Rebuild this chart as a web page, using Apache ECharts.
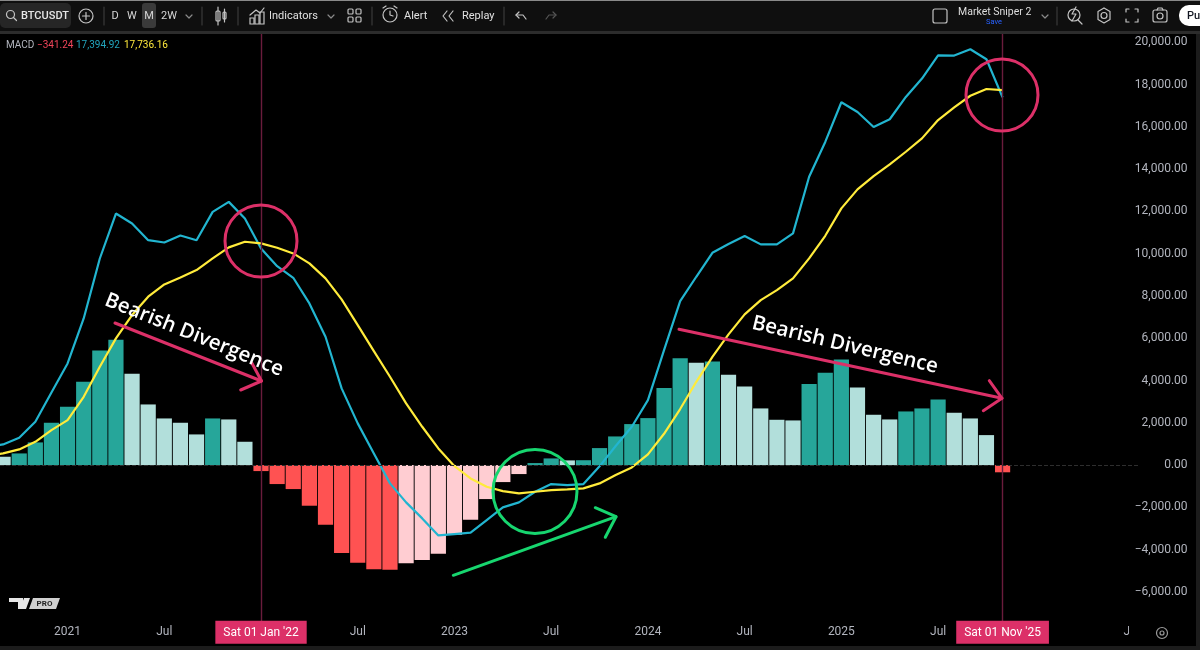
<!DOCTYPE html>
<html>
<head>
<meta charset="utf-8">
<title>BTCUSDT MACD</title>
<script src="https://cdn.jsdelivr.net/npm/echarts@6/dist/echarts.min.js"></script>
<style>
	html,body{margin:0;padding:0;background:#000;}
	#chart{width:1200px;height:650px;}
</style>
</head>
<body>
<div id="chart"></div>
<script>
	// monthly bars, Aug 2020 .. Jul 2026 (values stop at Nov 2025)
	var months = [
		'2020-08','2020-09','2020-10','2020-11','2020-12',
		'2021-01','2021-02','2021-03','2021-04','2021-05','2021-06','2021-07','2021-08','2021-09','2021-10','2021-11','2021-12',
		'2022-01','2022-02','2022-03','2022-04','2022-05','2022-06','2022-07','2022-08','2022-09','2022-10','2022-11','2022-12',
		'2023-01','2023-02','2023-03','2023-04','2023-05','2023-06','2023-07','2023-08','2023-09','2023-10','2023-11','2023-12',
		'2024-01','2024-02','2024-03','2024-04','2024-05','2024-06','2024-07','2024-08','2024-09','2024-10','2024-11','2024-12',
		'2025-01','2025-02','2025-03','2025-04','2025-05','2025-06','2025-07','2025-08','2025-09','2025-10','2025-11','2025-12',
		'2026-01','2026-02','2026-03','2026-04','2026-05','2026-06','2026-07'
	];
	var histValues = [
		450,394,551,1072,2002,
		2758,3940,5421,5926,4318,2868,2206,2002,1450,2206,2159,1103,
		-284,-898,-1135,-1923,-2821,-4161,-4618,-4933,-4949,-4649,-4492,-4192,
		-3300,-2585,-1608,-804,-425,95,315,221,230,804,1355,1939,
		2222,3641,5059,4837,4902,4271,3719,2680,2143,2112,3830,4366,
		4996,3672,2380,2159,2537,2680,3105,2475,2206,1418,-341.24
	];
	var macdValues = [
		880,978,1293,2049,3436,
		4807,6934,9772,11899,11427,10638,10528,10859,10638,11978,12451,11663,
		10244,9409,8860,7648,6070,3627,1972,552,-866,-1765,-2522,-3326,
		-3262,-3199,-2600,-2002,-1765,-1261,-898,-946,-898,-60,900,1811,
		3075,5440,7758,8908,10043,10454,10833,10440,10440,10960,13638,15286,
		17163,16705,15995,16359,17414,18284,19385,19370,19669,19196,17394.92
	];
	var signalValues = [
		430,553,742,1102,1656,
		2129,3231,4650,5993,7095,7963,8546,8877,9224,9777,10298,10563,
		10490,10280,10012,9540,8830,7838,6622,5393,4177,2917,1813,788,
		-50,-631,-1025,-1230,-1340,-1261,-1183,-1151,-1104,-867,-473,-110,
		504,1480,2650,3940,5123,6182,7128,7805,8278,8831,9777,10847,
		12143,13041,13671,14224,14822,15454,16320,16921,17470,17790,17736.16
	];
	var xTickLabels = {
		'2021-01':'2021','2021-07':'Jul','2022-07':'Jul','2023-01':'2023','2023-07':'Jul',
		'2024-01':'2024','2024-07':'Jul','2025-01':'2025','2025-07':'Jul','2026-07':'Jul'
	};
	var dateFlags = {'2022-01':"Sat 01 Jan '22",'2025-11':"Sat 01 Nov '25"};
	var yMin = -8000, yMax = 22000, yStep = 2000;
	var legendText = ['MACD','\u2212341.24','17,394.92','17,736.16'];

	var TEAL='#26a69a', TEAL_LIGHT='#b2dfdb', RED='#ff5252', RED_LIGHT='#ffcdd2';
	var MACD_COLOR='#22b5d0', SIGNAL_COLOR='#ffeb3b', PINK='#dc3068', GREEN='#17d66f', MAROON='#6a1c3c';
	var ICON='#c4c4c4', FONT='Roboto, "Noto Sans", sans-serif';

	function histColor(params){
		var i = params.dataIndex, v = histValues[i], prev = i>0 ? histValues[i-1] : v;
		if(v>=0){ return v>=prev ? TEAL : TEAL_LIGHT; }
		return v<prev ? RED : RED_LIGHT;
	}
	// the time scale is a month index, so the first bar can sit half off the left edge
	function pairs(values){
		return values.map(function(v,i){ return [i,v]; });
	}
	var xTickIndex = [];
	months.forEach(function(m,i){
		if(xTickLabels[m]||dateFlags[m]){ xTickIndex.push(i); }
	});

	// --- helpers for the overlay drawing ---
	var els = [];
	function txt(x,y,s,color,size,opt){
		opt = opt||{};
		els.push({type:'text',x:x,y:y,z:100,rotation:opt.rot||0,style:{text:s,fill:color,font:(opt.weight||'400')+' '+size+'px '+(opt.family||FONT),
			textAlign:opt.align||'left',textVerticalAlign:'middle'}});
	}
	function line(pts,color,w){
		els.push({type:'polyline',z:100,shape:{points:pts},style:{stroke:color,lineWidth:w||1.2,fill:null,lineCap:'round',lineJoin:'round'}});
	}
	function ring(x,y,r,color,w){
		els.push({type:'circle',z:100,shape:{cx:x,cy:y,r:r},style:{stroke:color,lineWidth:w||1.2,fill:null}});
	}
	function box(x,y,w,h,fill,r,stroke){
		els.push({type:'rect',z:r===-1?99:100,shape:{x:x,y:y,width:w,height:h,r:r>0?r:0},style:{fill:fill||null,stroke:stroke||null,lineWidth:1.2}});
	}
	function poly(pts,fill){
		els.push({type:'polygon',z:100,shape:{points:pts},style:{fill:fill}});
	}

	// toolbar
	box(0,0,1200,31,'#0f0f0f',-1);
	box(0,0,1200,1,'#8a8a8a',-1);
	box(0,31,1200,3,'#2c2c2c',-1);
	box(0,3,71,25,'#262626',5);
	ring(10.5,14.5,4,ICON); line([[13.5,17.5],[16.5,20.5]],ICON);
	txt(21,16,'BTCUSDT','#e6e6e6',11,{weight:'500'});
	ring(86,16,7,ICON); line([[82.5,16],[89.5,16]],ICON); line([[86,12.5],[86,19.5]],ICON);
	line([[104,7],[104,25]],'#3a3a3a');
	box(142,3,14,25,'#3a3a3a',3);
	txt(115,16,'D','#d6d6d6',11,{align:'center'});
	txt(132,16,'W','#d6d6d6',11,{align:'center'});
	txt(149,16,'M','#d6d6d6',11,{align:'center'});
	txt(169,16,'2W','#d6d6d6',11,{align:'center'});
	line([[186,15],[189,18],[192,15]],'#8a8a8a');
	line([[202,7],[202,25]],'#3a3a3a');
	box(216,11,4,10,null,1,ICON); line([[218,7],[218,25]],ICON);
	box(223,12,3,7,null,1,ICON); line([[224.5,9],[224.5,22]],ICON);
	line([[238,7],[238,25]],'#3a3a3a');
	line([[250,15],[256,10],[260,13],[264,8]],ICON);
	box(250,18,4,6,null,0,ICON); box(255,15,4,9,null,0,ICON); box(260,12,4,12,null,0,ICON);
	txt(269,16,'Indicators','#e0e0e0',11);
	line([[328,15],[331,18],[334,15]],'#8a8a8a');
	box(348,9,5,5,null,1,ICON); box(356,9,5,5,null,1,ICON); box(348,17,5,5,null,1,ICON); box(356,17,5,5,null,1,ICON);
	line([[372,7],[372,25]],'#3a3a3a');
	ring(390,15,7,ICON); line([[390,11],[390,15],[393,16]],ICON); line([[383,8],[386,6]],ICON); line([[397,8],[394,6]],ICON);
	txt(404,16,'Alert','#e0e0e0',11);
	line([[447,11],[443,16],[447,21]],ICON); line([[453,11],[449,16],[453,21]],ICON);
	txt(462,16,'Replay','#e0e0e0',11);
	line([[504,7],[504,25]],'#3a3a3a');
	line([[519,12],[516,15],[519,18]],ICON); line([[516,15],[523,15],[526,19]],ICON);
	line([[553,12],[556,15],[553,18]],'#555'); line([[556,15],[549,15],[546,19]],'#555');
	box(933,9,14,14,null,2,ICON);
	txt(958,12,'Market Sniper 2','#dedede',10.5);
	txt(994,22,'Save','#2962ff',7.5,{align:'center'});
	line([[1042,15],[1045,18],[1048,15]],'#8a8a8a');
	line([[1057,7],[1057,25]],'#3a3a3a');
	ring(1074,15,6,ICON); line([[1078,20],[1082,24]],ICON); line([[1076,7],[1072,14],[1076,14],[1072,21]],ICON);
	line([[1104,8],[1110,11.5],[1110,19.5],[1104,23],[1098,19.5],[1098,11.5],[1104,8]],ICON); ring(1104,15.5,3,ICON);
	line([[1126,12],[1126,9],[1129,9]],ICON); line([[1135,9],[1138,9],[1138,12]],ICON); line([[1126,19],[1126,22],[1129,22]],ICON); line([[1135,22],[1138,22],[1138,19]],ICON);
	box(1153,10,14,12,null,2,ICON); ring(1160,16,3,ICON); line([[1157,10],[1158,8],[1162,8],[1163,10]],ICON);
	box(1179,5,30,21,'#ffffff',10);
	txt(1187,16,'Pul','#131722',11,{weight:'500'});

	// indicator legend
	txt(6,45,legendText[0],'#b2b5be',10);
	txt(37,45,legendText[1],'#f0455a',10);
	txt(76,45,legendText[2],'#22a5bd',10);
	txt(124,45,legendText[3],'#ffe93b',10);

	// hand drawn annotations
	ring(261,241,36,PINK,3);
	ring(1002,95,36,PINK,3);
	ring(535,491.5,42,GREEN,3);
	line([[115,323],[261.5,381]],PINK,3); line([[251.7,362.7],[261.5,381],[240.7,390]],PINK,3);
	line([[679,329.3],[1002,398.3]],PINK,3); line([[989.3,380.7],[1002,398.3],[983.3,410.7]],PINK,3);
	line([[453.3,575.3],[616,516.7]],GREEN,3); line([[595.3,507.7],[616,516.7],[605.3,537.3]],GREEN,3);
	var NOTE='"Open Sans", "Noto Sans", sans-serif';
	txt(194,335,'Bearish Divergence','#ffffff',20.5,{weight:'600',family:NOTE,align:'center',rot:-22*Math.PI/180});
	txt(845,345,'Bearish Divergence','#ffffff',20.5,{weight:'600',family:NOTE,align:'center',rot:-13.5*Math.PI/180});

	// logo
	poly([[9,598],[23,598],[23,609],[18,609],[18,602],[9,602]],'#e6e6e6');
	poly([[24,598],[30,598],[26,609],[20,609]],'#e6e6e6');
	poly([[33,598],[60,598],[56,609],[29,609]],'#d0d0d0');
	txt(44.5,603.7,'PRO','#222',8,{weight:'700',align:'center'});

	// right edge of the time scale and the panel border
	box(1129,620,62,24,'#000',-1);
	ring(1162,633,5.5,'#9a9a9a'); ring(1162,633,2,'#9a9a9a');
	box(1196,34,4,616,'#1c1c1c',-1);
	box(0,646,1200,4,'#1c1c1c',-1);

	var chart = echarts.init(document.getElementById('chart'),null,{renderer:'canvas'});
	var option = {
		animation:false,
		backgroundColor:'#000',
		grid:{left:0,top:0,width:1139.6,height:634.2},
		xAxis:{
			type:'value',
			min:0.808,
			max:71.5,
			z:10,
			axisLine:{show:false},
			axisTick:{show:false},
			splitLine:{show:false},
			axisLabel:{
				customValues:xTickIndex,
				showMinLabel:true,
				showMaxLabel:true,
				margin:-2,
				verticalAlign:'middle',
				color:'#b2b5be',
				fontFamily:FONT,
				fontSize:12,
				formatter:function(v){
					var m = months[v];
					if(dateFlags[m]){ return '{flag|'+dateFlags[m]+'}'; }
					return xTickLabels[m]||'';
				},
				rich:{flag:{backgroundColor:'#dc3068',color:'#fff',fontFamily:FONT,fontSize:12,padding:[6,8,5,8],lineHeight:12}}
			}
		},
		yAxis:{
			type:'value',
			position:'right',
			min:yMin,
			max:yMax,
			interval:yStep,
			axisLine:{show:false},
			axisTick:{show:false},
			splitLine:{show:false},
			axisLabel:{
				showMinLabel:false,
				showMaxLabel:false,
				align:'right',
				margin:48,
				color:'#b2b5be',
				fontFamily:FONT,
				fontSize:12,
				formatter:function(v){
					var s = Math.abs(v).toLocaleString('en-US',{minimumFractionDigits:2,maximumFractionDigits:2});
					return (v<0?'\u2212':'')+s;
				}
			}
		},
		series:[
			{
				type:'bar',
				data:pairs(histValues),
				barWidth:15.2,
				itemStyle:{color:histColor},
				markLine:{
					silent:true,
					symbol:'none',
					label:{show:false},
					data:[
						{xAxis:months.indexOf('2022-01'),lineStyle:{color:MAROON,width:1.4,type:'solid'}},
						{xAxis:months.indexOf('2025-11'),lineStyle:{color:MAROON,width:1.4,type:'solid'}},
						{yAxis:0,lineStyle:{color:'#2e2e2e',width:1,type:'dashed'}}
					]
				}
			},
			{type:'line',data:pairs(macdValues),symbol:'none',lineStyle:{color:MACD_COLOR,width:2.2}},
			{type:'line',data:pairs(signalValues),symbol:'none',lineStyle:{color:SIGNAL_COLOR,width:2.2}}
		],
		graphic:{elements:els}
	};
	chart.setOption(option);
</script>
</body>
</html>
